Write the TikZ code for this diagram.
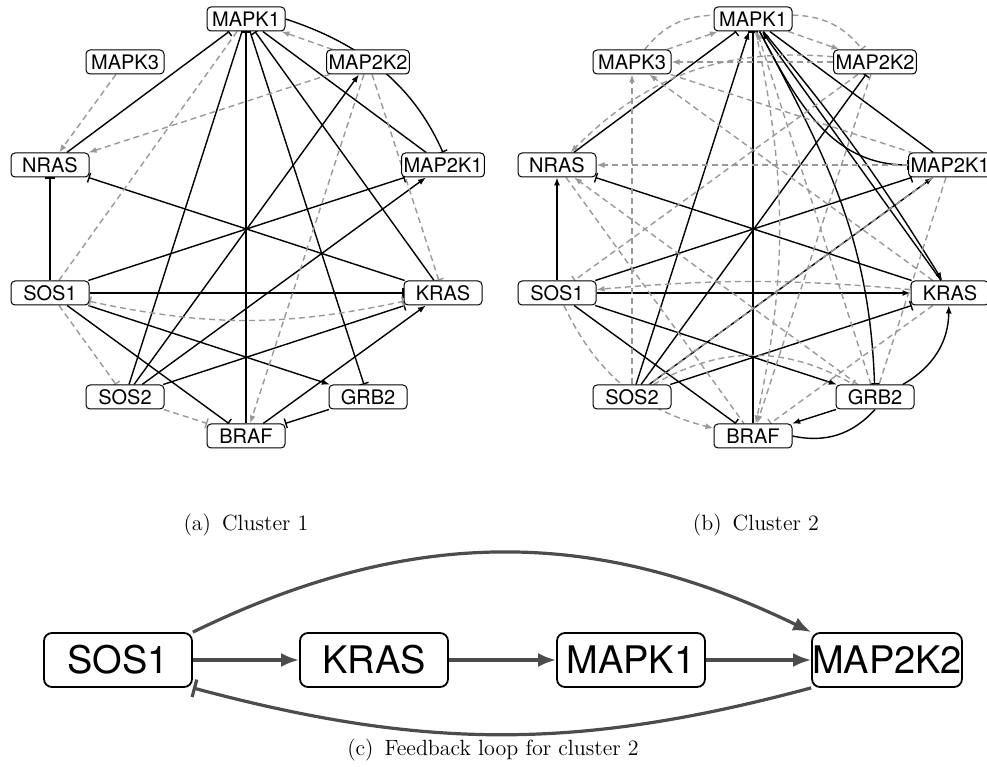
\documentclass[tikz,border=0pt]{standalone}
\usepackage{fontspec}
\newfontfamily\genefont{TeX Gyre Heros}
\usetikzlibrary{arrows.meta,backgrounds}

\tikzset{
  gene/.style={draw, rounded corners=2pt, fill=white, line width=0.5pt,
    font=\genefont\fontsize{10}{12}\selectfont,
    minimum width=39pt, minimum height=12pt, inner sep=1pt},
  bigbox/.style={draw, rounded corners=4pt, fill=white, line width=0.9pt,
    font=\genefont\fontsize{19}{22}\selectfont,
    minimum width=74pt, minimum height=27pt, inner sep=0pt},
  firm/.style={black, line width=0.7pt},
  weak/.style={black!40, line width=0.7pt, dash pattern=on 3pt off 2pt},
  act/.style={-{Latex[length=4pt,width=3pt]}},
  inh/.style={-{Bar[width=5pt]}},
  loopedge/.style={black!70, line width=1.6pt},
  bigact/.style={-{Latex[length=9pt,width=7pt]}},
  biginh/.style={-{Bar[width=9pt]}},
  subcap/.style={font=\fontsize{11}{13}\selectfont}
}

\begin{document}
\begin{tikzpicture}[x=0.5pt,y=0.5pt]
\useasboundingbox (0,0) rectangle (987,767);

% genes on a circle, same layout for both clusters
\foreach \c/\dx in {a/0,b/507}{
  \node[gene] (\c mapk1)  at (246+\dx,748) {MAPK1};
  \node[gene] (\c map2k2) at (368+\dx,705) {MAP2K2};
  \node[gene] (\c map2k1) at (443+\dx,602) {MAP2K1};
  \node[gene] (\c kras)   at (443+\dx,474) {KRAS};
  \node[gene] (\c grb2)   at (368+\dx,370) {GRB2};
  \node[gene] (\c braf)   at (246+\dx,331) {BRAF};
  \node[gene] (\c sos2)   at (125+\dx,370) {SOS2};
  \node[gene] (\c sos1)   at (50+\dx,474)  {SOS1};
  \node[gene] (\c nras)   at (50+\dx,602)  {NRAS};
  \node[gene] (\c mapk3)  at (125+\dx,705) {MAPK3};
}

\begin{scope}[on background layer]
% cluster 1
\draw[firm,inh] (anras) -- (amapk1);
\draw[firm] (asos2) -- (amapk1);
\draw[firm,inh] (abraf) -- (amapk1);
\draw[firm,inh] (akras) -- (amapk1);
\draw[firm] (amapk1) -- (amap2k1);
\draw[firm,inh] (amapk1) -- (agrb2);
\draw[firm,inh] (amapk1.east) .. controls (372,720) and (417,673) .. (amap2k1.north);
\draw[firm,inh] (asos1) -- (anras);
\draw[firm,inh] (akras) -- (anras);
\draw[firm,inh] (asos1) -- (akras);
\draw[firm,inh] (asos1) -- (amap2k1);
\draw[firm,act] (asos1) -- (agrb2);
\draw[firm,inh] (asos1) -- (abraf);
\draw[firm,act] (asos2) -- (amap2k2);
\draw[firm,act] (asos2) -- (amap2k1);
\draw[firm,inh] (asos2) -- (akras);
\draw[firm,act] (abraf) -- (akras);
\draw[firm,inh] (agrb2) -- (abraf);
\draw[weak,act] (amapk3) -- (anras);
\draw[weak,act] (amap2k2) -- (anras);
\draw[weak,act] (amap2k2) -- (amapk1);
\draw[weak] (amapk1) -- (asos1);
\draw[weak,act] (amap2k2) -- (abraf);
\draw[weak,inh] (amap2k2) -- (akras);
\draw[weak,inh] (asos1) -- (asos2);
\draw[weak,inh] (asos2) -- (abraf);
\draw[weak,{Bar[width=5pt]}-{Bar[width=5pt]}] (asos1) to[bend right=12] (akras);

% cluster 2
\draw[firm,inh] (bnras) -- (bmapk1);
\draw[firm,act] (bsos2) -- (bmapk1);
\draw[firm,inh] (bbraf) -- (bmapk1);
\draw[firm,act] (bkras) -- (bmapk1);
\draw[firm,act] (bmapk1) to[bend left=4] (bkras);
\draw[firm,inh] (bmapk1) to[out=-62,in=92] (bgrb2);
\draw[firm,inh] (bmapk1) to[out=-62,in=180] (bmap2k1);
\draw[firm] (bmapk1) -- (bmap2k1);
\draw[firm,act] (bsos1) -- (bnras);
\draw[firm,inh] (bkras) -- (bnras);
\draw[firm,act] (bsos1) -- (bkras);
\draw[firm,inh] (bsos1) -- (bmap2k1);
\draw[firm,act] (bsos1) -- (bgrb2);
\draw[firm,inh] (bsos1) -- (bbraf);
\draw[firm,inh] (bsos2) -- (bmap2k2);
\draw[firm,act] (bsos2) -- (bmap2k1);
\draw[firm,inh] (bsos2) -- (bkras);
\draw[firm,act] (bgrb2) -- (bbraf);
\draw[firm] (bbraf.east) to[bend right=30] (bgrb2.south);
\draw[firm,act] (bgrb2) to[bend right=30] (bkras);
\draw[weak,act] (bmapk3) -- (bmapk1);
\draw[weak] (bmapk3) to[bend left=25] (bmapk1);
\draw[weak,act] (bmapk1) -- (bmap2k2);
\draw[weak,inh] (bmapk1) to[bend left=25] (bmap2k2);
\draw[weak,act] (bmap2k2) -- (bmapk3);
\draw[weak,act] (bmap2k1) -- (bnras);
\draw[weak,act] (bmap2k2) to[bend right=25] (bnras);
\draw[weak,act] (bsos2) -- (bmapk3);
\draw[weak,inh] (bmap2k2) -- (bsos1);
\draw[weak,act] (bkras) -- (bmapk3);
\draw[weak] (bmapk3) -- (bmap2k1);
\draw[weak,act] (bgrb2) -- (bnras);
\draw[weak] (bnras) -- (bbraf);
\draw[weak,act] (bkras) to[bend right=5] (bsos1);
\draw[weak,act] (bsos1) to[bend right=25] (bbraf);
\draw[weak,act] (bmapk1) to[bend left=12] (bbraf);
\draw[weak,act] (bmap2k2) -- (bbraf);
\draw[weak,inh] (bkras) -- (bbraf);
\draw[weak] (bmap2k1) -- (bgrb2);
\draw[weak,inh] (bsos2) to[bend left=30] (bgrb2);
\draw[weak,act] (bgrb2) -- (bmapk1);
\draw[weak] (bmap2k1) -- (bsos2);
\end{scope}

\node[subcap] (capa) at (246,242) {(a)\enspace Cluster 1};
\node[subcap] (capb) at (756,242) {(b)\enspace Cluster 2};

% feedback loop
\node[bigbox] (lsos1)   at (118,107) {SOS1};
\node[bigbox] (lkras)   at (374,107) {KRAS};
\node[bigbox] (lmapk1)  at (631,107) {MAPK1};
\node[bigbox] (lmap2k2) at (887,107) {MAP2K2};
\draw[loopedge,bigact] (lsos1) -- (lkras);
\draw[loopedge,bigact] (lkras) -- (lmapk1);
\draw[loopedge,bigact] (lmapk1) -- (lmap2k2);
\draw[loopedge,bigact] (lsos1.north east) to[bend left=26] (lmap2k2.north west);
\draw[loopedge,biginh] (lmap2k2.south west) to[bend left=15] (lsos1.south east);
\node[subcap] (capc) at (493,17) {(c)\enspace Feedback loop for cluster 2};
\end{tikzpicture}
\end{document}
